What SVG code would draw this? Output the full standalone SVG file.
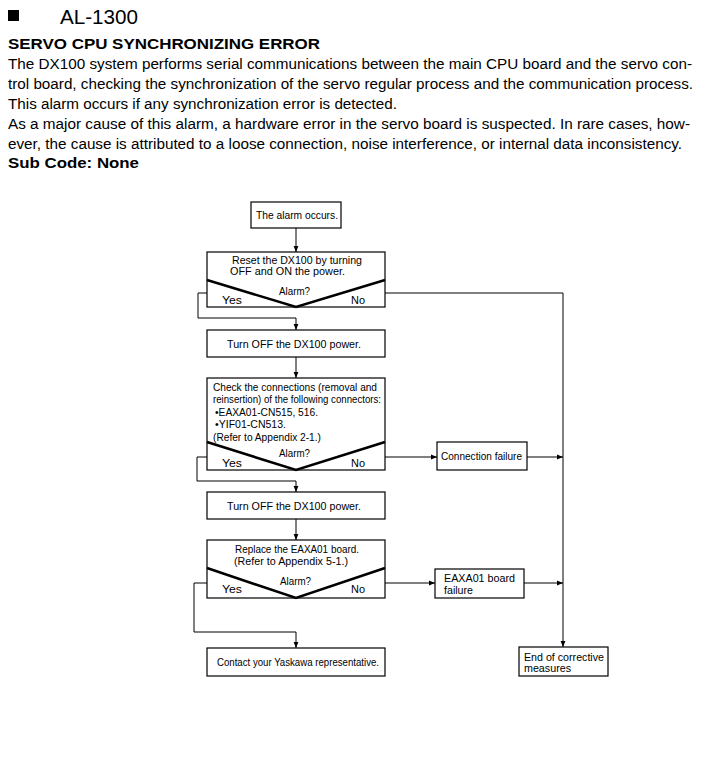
<svg xmlns="http://www.w3.org/2000/svg" width="721" height="779" viewBox="0 0 721 779">
<defs>
<marker id="ah" viewBox="0 0 6 6" refX="6" refY="3" markerWidth="6" markerHeight="6" markerUnits="userSpaceOnUse" orient="auto">
<path d="M0,0.6 L6,3 L0,5.4 Z" fill="#000"/>
</marker>
<style>
.body{font-family:"Liberation Sans",Arial,sans-serif;font-size:15.5px;fill:#000}
.bold{font-family:"Liberation Sans",Arial,sans-serif;font-size:15px;font-weight:bold;fill:#000}
.t{font-family:"Liberation Sans",Arial,sans-serif;font-size:11px;fill:#000}
.s{font-size:10px}
.box{fill:#fff;stroke:#000;stroke-width:1.2}
.dia{fill:none;stroke:#000;stroke-width:2.6;stroke-linejoin:miter}
.ca{fill:none;stroke:#000;stroke-width:1;marker-end:url(#ah)}
</style>
</defs>
<rect width="721" height="779" fill="#fff"/>
<g id="header">
<rect x="8" y="10" width="11" height="11" fill="#000"/>
<text x="60" y="24" font-family="Liberation Sans, Arial, sans-serif" font-size="20" textLength="78" lengthAdjust="spacingAndGlyphs">AL-1300</text>
<text class="bold" x="8" y="49" textLength="312" lengthAdjust="spacingAndGlyphs">SERVO CPU SYNCHRONIZING ERROR</text>
<text class="body" x="8" y="69" textLength="684" lengthAdjust="spacingAndGlyphs">The DX100 system performs serial communications between the main CPU board and the servo con-</text>
<text class="body" x="8" y="89" textLength="685" lengthAdjust="spacingAndGlyphs">trol board, checking the synchronization of the servo regular process and the communication process.</text>
<text class="body" x="8" y="109" textLength="389" lengthAdjust="spacingAndGlyphs">This alarm occurs if any synchronization error is detected.</text>
<text class="body" x="8" y="129" textLength="682" lengthAdjust="spacingAndGlyphs">As a major cause of this alarm, a hardware error in the servo board is suspected. In rare cases, how-</text>
<text class="body" x="8" y="149" textLength="674" lengthAdjust="spacingAndGlyphs">ever, the cause is attributed to a loose connection, noise interference, or internal data inconsistency.</text>
<text class="bold" x="8" y="168" textLength="131" lengthAdjust="spacingAndGlyphs">Sub Code: None</text>
</g>
<g id="connectors">
<path class="ca" d="M296,228 V252"/>
<path class="ca" d="M207,293 H198 V318 H296 V330"/>
<path class="ca" d="M296,357 V378"/>
<path class="ca" d="M207,457 H197 V481 H296 V492"/>
<path class="ca" d="M296,519 V540"/>
<path class="ca" d="M207,583 H194 V632 H296 V648"/>
<path class="ca" d="M385,293 H563 V647"/>
<path class="ca" d="M385,457 H437"/>
<path class="ca" d="M527,457 H563"/>
<path class="ca" d="M385,583 H435"/>
<path class="ca" d="M524,583 H563"/>
</g>
<g id="start">
<rect class="box" x="251" y="202" width="90" height="26"/>
<text class="t" x="256" y="219" textLength="82" lengthAdjust="spacingAndGlyphs">The alarm occurs.</text>
</g>
<g id="reset">
<rect class="box" x="207" y="252" width="178" height="55"/>
<polyline class="dia" points="207,280 296,307 385,280"/>
<text class="t s" x="232" y="264" textLength="130" lengthAdjust="spacingAndGlyphs">Reset the DX100 by turning</text>
<text class="t s" x="230" y="275" textLength="115" lengthAdjust="spacingAndGlyphs">OFF and ON the power.</text>
<text class="t" x="279" y="294.5" textLength="31" lengthAdjust="spacingAndGlyphs">Alarm?</text>
<text class="t" x="222" y="303.5" textLength="20" lengthAdjust="spacingAndGlyphs">Yes</text>
<text class="t" x="351" y="303.5" textLength="14" lengthAdjust="spacingAndGlyphs">No</text>
</g>
<g id="turnoff1">
<rect class="box" x="207" y="330" width="178" height="27"/>
<text class="t" x="227" y="347.5" textLength="134" lengthAdjust="spacingAndGlyphs">Turn OFF the DX100 power.</text>
</g>
<g id="check">
<rect class="box" x="207" y="378" width="178" height="92"/>
<polyline class="dia" points="207,442 296,470 385,442"/>
<text class="t" x="213" y="390.5" textLength="164" lengthAdjust="spacingAndGlyphs">Check the connections (removal and</text>
<text class="t" x="213" y="403" textLength="168" lengthAdjust="spacingAndGlyphs">reinsertion) of the following connectors:</text>
<text class="t" x="215" y="415.5" textLength="103" lengthAdjust="spacingAndGlyphs">•EAXA01-CN515, 516.</text>
<text class="t" x="215" y="428" textLength="71" lengthAdjust="spacingAndGlyphs">•YIF01-CN513.</text>
<text class="t" x="213" y="440.5" textLength="108" lengthAdjust="spacingAndGlyphs">(Refer to Appendix 2-1.)</text>
<text class="t" x="279" y="456.5" textLength="31" lengthAdjust="spacingAndGlyphs">Alarm?</text>
<text class="t" x="222" y="466.5" textLength="20" lengthAdjust="spacingAndGlyphs">Yes</text>
<text class="t" x="351" y="466.5" textLength="14" lengthAdjust="spacingAndGlyphs">No</text>
</g>
<g id="connfail">
<rect class="box" x="437" y="442" width="90" height="28"/>
<text class="t" x="441" y="460" textLength="81" lengthAdjust="spacingAndGlyphs">Connection failure</text>
</g>
<g id="turnoff2">
<rect class="box" x="207" y="492" width="178" height="27"/>
<text class="t" x="227" y="509.5" textLength="134" lengthAdjust="spacingAndGlyphs">Turn OFF the DX100 power.</text>
</g>
<g id="replace">
<rect class="box" x="207" y="540" width="178" height="58"/>
<polyline class="dia" points="207,568 296,598 385,568"/>
<text class="t" x="235" y="553" textLength="124" lengthAdjust="spacingAndGlyphs">Replace the EAXA01 board.</text>
<text class="t" x="234" y="565" textLength="114" lengthAdjust="spacingAndGlyphs">(Refer to Appendix 5-1.)</text>
<text class="t" x="280" y="584.5" textLength="31" lengthAdjust="spacingAndGlyphs">Alarm?</text>
<text class="t" x="222" y="592.5" textLength="20" lengthAdjust="spacingAndGlyphs">Yes</text>
<text class="t" x="351" y="592.5" textLength="14" lengthAdjust="spacingAndGlyphs">No</text>
</g>
<g id="boardfail">
<rect class="box" x="435" y="569" width="89" height="29"/>
<text class="t" x="444" y="582" textLength="71" lengthAdjust="spacingAndGlyphs">EAXA01 board</text>
<text class="t" x="444" y="594" textLength="29" lengthAdjust="spacingAndGlyphs">failure</text>
</g>
<g id="contact">
<rect class="box" x="207" y="648" width="178" height="28"/>
<text class="t" x="217" y="666" textLength="162" lengthAdjust="spacingAndGlyphs">Contact your Yaskawa representative.</text>
</g>
<g id="end">
<rect class="box" x="519" y="647" width="89" height="29"/>
<text class="t" x="524" y="661" textLength="80" lengthAdjust="spacingAndGlyphs">End of corrective</text>
<text class="t" x="524" y="672" textLength="47" lengthAdjust="spacingAndGlyphs">measures</text>
</g>
</svg>
